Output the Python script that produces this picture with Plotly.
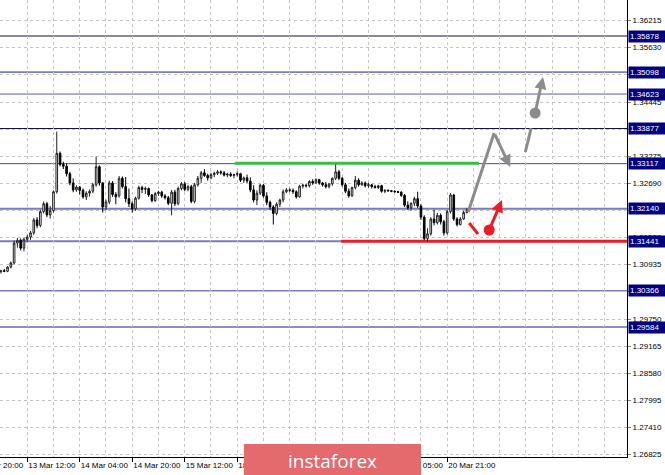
import plotly.graph_objects as go

# ---------------- data (H1 candles) ----------------
open_ = [1.3078, 1.3080, 1.3079, 1.3088, 1.3097, 1.3140, 1.3146, 1.3129, 1.3148, 1.3153,
         1.3162, 1.3190, 1.3178, 1.3208, 1.3225, 1.3201, 1.3210, 1.3251, 1.3334, 1.3310,
         1.3306, 1.3290, 1.3270, 1.3255, 1.3261, 1.3254, 1.3240, 1.3248, 1.3252, 1.3266,
         1.3305, 1.3270, 1.3218, 1.3229, 1.3270, 1.3245, 1.3242, 1.3280, 1.3262, 1.3236,
         1.3225, 1.3214, 1.3237, 1.3260, 1.3256, 1.3258, 1.3244, 1.3232, 1.3247, 1.3250,
         1.3242, 1.3238, 1.3226, 1.3250, 1.3225, 1.3258, 1.3268, 1.3256, 1.3262, 1.3230,
         1.3266, 1.3280, 1.3292, 1.3286, 1.3281, 1.3288, 1.3291, 1.3294, 1.3292, 1.3287,
         1.3289, 1.3286, 1.3288, 1.3290, 1.3276, 1.3281, 1.3274, 1.3255, 1.3233, 1.3248,
         1.3265, 1.3242, 1.3228, 1.3218, 1.3204, 1.3224, 1.3233, 1.3251, 1.3255, 1.3254,
         1.3251, 1.3240, 1.3263, 1.3265, 1.3264, 1.3273, 1.3270, 1.3277, 1.3270, 1.3266,
         1.3262, 1.3268, 1.3280, 1.3294, 1.3280, 1.3266, 1.3252, 1.3242, 1.3260, 1.3276,
         1.3266, 1.3270, 1.3264, 1.3266, 1.3262, 1.3260, 1.3264, 1.3252, 1.3254, 1.3253,
         1.3252, 1.3251, 1.3250, 1.3243, 1.3222, 1.3216, 1.3226, 1.3236, 1.3220, 1.3196,
         1.3150, 1.3160, 1.3192, 1.3184, 1.3200, 1.3186, 1.3162, 1.3208, 1.3244, 1.3192,
         1.3180, 1.3192, 1.3206]
high = [1.3082, 1.3084, 1.3090, 1.3100, 1.3145, 1.3151, 1.3150, 1.3152, 1.3158, 1.3166,
        1.3194, 1.3196, 1.3212, 1.3230, 1.3229, 1.3220, 1.3254, 1.3381, 1.3338, 1.3316,
        1.3312, 1.3294, 1.3280, 1.3265, 1.3263, 1.3258, 1.3252, 1.3256, 1.3270, 1.3327,
        1.3308, 1.3272, 1.3234, 1.3275, 1.3274, 1.3250, 1.3285, 1.3284, 1.3283, 1.3258,
        1.3230, 1.3240, 1.3264, 1.3264, 1.3262, 1.3260, 1.3246, 1.3250, 1.3253, 1.3253,
        1.3246, 1.3242, 1.3255, 1.3255, 1.3262, 1.3272, 1.3272, 1.3266, 1.3266, 1.3270,
        1.3285, 1.3296, 1.3300, 1.3290, 1.3292, 1.3294, 1.3298, 1.3297, 1.3296, 1.3292,
        1.3293, 1.3290, 1.3295, 1.3292, 1.3284, 1.3288, 1.3282, 1.3265, 1.3254, 1.3268,
        1.3268, 1.3250, 1.3232, 1.3222, 1.3228, 1.3236, 1.3256, 1.3259, 1.3258, 1.3258,
        1.3254, 1.3266, 1.3268, 1.3268, 1.3276, 1.3278, 1.3280, 1.3279, 1.3272, 1.3272,
        1.3270, 1.3282, 1.3310, 1.3298, 1.3283, 1.3270, 1.3258, 1.3262, 1.3285, 1.3280,
        1.3274, 1.3273, 1.3270, 1.3268, 1.3266, 1.3266, 1.3266, 1.3256, 1.3256, 1.3255,
        1.3254, 1.3253, 1.3252, 1.3246, 1.3230, 1.3228, 1.3240, 1.3251, 1.3224, 1.3200,
        1.3172, 1.3196, 1.3212, 1.3205, 1.3204, 1.3190, 1.3212, 1.3248, 1.3246, 1.3196,
        1.3196, 1.3210, 1.3216]
low = [1.3074, 1.3077, 1.3077, 1.3085, 1.3094, 1.3130, 1.3124, 1.3122, 1.3142, 1.3147,
       1.3158, 1.3172, 1.3174, 1.3204, 1.3196, 1.3193, 1.3206, 1.3247, 1.3306, 1.3300,
       1.3284, 1.3265, 1.3250, 1.3251, 1.3245, 1.3236, 1.3233, 1.3240, 1.3248, 1.3262,
       1.3264, 1.3206, 1.3211, 1.3224, 1.3240, 1.3224, 1.3238, 1.3258, 1.3228, 1.3218,
       1.3206, 1.3210, 1.3234, 1.3248, 1.3246, 1.3240, 1.3228, 1.3229, 1.3242, 1.3238,
       1.3234, 1.3222, 1.3200, 1.3220, 1.3222, 1.3254, 1.3252, 1.3252, 1.3226, 1.3226,
       1.3262, 1.3270, 1.3283, 1.3275, 1.3278, 1.3283, 1.3287, 1.3288, 1.3284, 1.3282,
       1.3283, 1.3280, 1.3284, 1.3272, 1.3270, 1.3270, 1.3250, 1.3228, 1.3222, 1.3244,
       1.3238, 1.3222, 1.3212, 1.3180, 1.3200, 1.3218, 1.3228, 1.3248, 1.3250, 1.3246,
       1.3236, 1.3238, 1.3258, 1.3260, 1.3260, 1.3266, 1.3268, 1.3266, 1.3262, 1.3258,
       1.3258, 1.3264, 1.3276, 1.3276, 1.3262, 1.3248, 1.3238, 1.3240, 1.3256, 1.3262,
       1.3264, 1.3260, 1.3260, 1.3258, 1.3258, 1.3257, 1.3249, 1.3248, 1.3251, 1.3250,
       1.3249, 1.3248, 1.3240, 1.3218, 1.3212, 1.3210, 1.3220, 1.3216, 1.3190, 1.3146,
       1.3143, 1.3156, 1.3178, 1.3180, 1.3180, 1.3156, 1.3158, 1.3204, 1.3188, 1.3176,
       1.3178, 1.3190, 1.3204]
close = [1.3080, 1.3079, 1.3088, 1.3097, 1.3140, 1.3146, 1.3129, 1.3148, 1.3153, 1.3162,
         1.3190, 1.3178, 1.3208, 1.3225, 1.3201, 1.3210, 1.3251, 1.3334, 1.3310, 1.3306,
         1.3290, 1.3270, 1.3255, 1.3261, 1.3254, 1.3240, 1.3248, 1.3252, 1.3266, 1.3305,
         1.3270, 1.3218, 1.3229, 1.3270, 1.3245, 1.3240, 1.3280, 1.3262, 1.3236, 1.3225,
         1.3214, 1.3237, 1.3260, 1.3256, 1.3258, 1.3244, 1.3232, 1.3247, 1.3250, 1.3242,
         1.3238, 1.3226, 1.3250, 1.3225, 1.3258, 1.3268, 1.3256, 1.3262, 1.3230, 1.3266,
         1.3280, 1.3292, 1.3286, 1.3281, 1.3288, 1.3291, 1.3294, 1.3292, 1.3287, 1.3289,
         1.3286, 1.3288, 1.3290, 1.3276, 1.3281, 1.3274, 1.3255, 1.3233, 1.3248, 1.3265,
         1.3242, 1.3228, 1.3218, 1.3204, 1.3224, 1.3233, 1.3251, 1.3255, 1.3254, 1.3251,
         1.3240, 1.3263, 1.3265, 1.3264, 1.3273, 1.3270, 1.3277, 1.3270, 1.3266, 1.3262,
         1.3268, 1.3280, 1.3294, 1.3280, 1.3266, 1.3252, 1.3242, 1.3260, 1.3276, 1.3266,
         1.3270, 1.3264, 1.3266, 1.3262, 1.3260, 1.3264, 1.3252, 1.3254, 1.3253, 1.3252,
         1.3251, 1.3250, 1.3243, 1.3222, 1.3216, 1.3226, 1.3236, 1.3220, 1.3196, 1.3150,
         1.3160, 1.3192, 1.3184, 1.3200, 1.3186, 1.3162, 1.3208, 1.3244, 1.3192, 1.3180,
         1.3192, 1.3206, 1.3212]

# time axis labels (bar index of each label, text)
time_label_bars = [8, 24, 40, 56, 72, 88, 104, 120, 136]
time_label_text = ["13 Mar 12:00", "14 Mar 04:00", "14 Mar 20:00", "15 Mar 12:00",
                   "18 Mar 05:00", "18 Mar 21:00", "19 Mar 13:00", "20 Mar 05:00",
                   "20 Mar 21:00"]
first_label_text = "12 Mar 20:00"

# price scale labels
price_ticks = [1.36215, 1.35630, 1.35045, 1.34445, 1.33860, 1.33275, 1.32690, 1.32105,
               1.31520, 1.30935, 1.30350, 1.29750, 1.29165, 1.28580, 1.27995, 1.27410,
               1.26825]

# horizontal support / resistance levels
levels = [1.35878, 1.35098, 1.34623, 1.33877, 1.33117, 1.32140, 1.31441, 1.30366, 1.29584]

# highlighted zones
green_level = 1.33125
green_from_bar, green_to_bar = 71.3, 145.7
red_level = 1.31441
red_from_bar = 103.7

# forecast drawings (bar index, price)
up_path_bars = [142.4, 150.3]
up_path_prices = [1.32071, 1.33780]
up_pullback_tip = (155.2, 1.33045)
up_dash_bars = [159.8, 161.6]
up_dash_prices = [1.33369, 1.33888]
up_target_point = (162.8, 1.34213)
up_target_tip = (165.2, 1.34992)
alt_dash_bars = [142.7, 145.4]
alt_dash_prices = [1.31833, 1.31595]
alt_point = (148.8, 1.31682)
alt_tip = (152.7, 1.32331)

# ---------------- styling ----------------
level_colors = ["#101040", "#1c1c80", "#5a5ab4", "#101040", "#4848a8",
                "#7a7ac0", "#7a7ac0", "#3a3a98", "#1c1c80"]
level_widths = [1, 1, 1, 1, 1, 2, 2, 1, 1]
GRAY = "#8c8c8c"
RED = "#ec1c24"
FONT = "Liberation Sans"
X_RANGE = [-0.3, 190.8]
Y_RANGE = [1.26772, 1.36657]

bars = list(range(len(close)))

fig = go.Figure()
fig.add_trace(go.Candlestick(
    x=bars, open=open_, high=high, low=low, close=close,
    increasing=dict(line=dict(color="#202020", width=1), fillcolor="#ffffff"),
    decreasing=dict(line=dict(color="#000000", width=1), fillcolor="#000000"),
    whiskerwidth=0, hoverinfo="skip", showlegend=False))

# forecast lines
fig.add_trace(go.Scatter(x=up_path_bars, y=up_path_prices, mode="lines",
                         line=dict(color=GRAY, width=3), hoverinfo="skip"))
fig.add_trace(go.Scatter(x=up_dash_bars, y=up_dash_prices, mode="lines",
                         line=dict(color=GRAY, width=3), hoverinfo="skip"))
fig.add_trace(go.Scatter(x=[up_target_point[0]], y=[up_target_point[1]], mode="markers",
                         marker=dict(color=GRAY, size=11), hoverinfo="skip"))
fig.add_trace(go.Scatter(x=alt_dash_bars, y=alt_dash_prices, mode="lines",
                         line=dict(color=RED, width=3), hoverinfo="skip"))
fig.add_trace(go.Scatter(x=[alt_point[0]], y=[alt_point[1]], mode="markers",
                         marker=dict(color=RED, size=11), hoverinfo="skip"))

shapes = []
for lv, col, w in zip(levels, level_colors, level_widths):
    shapes.append(dict(type="line", xref="paper", x0=0, x1=1, yref="y", y0=lv, y1=lv,
                       line=dict(color=col, width=w), layer="between"))
shapes.append(dict(type="line", xref="x", x0=green_from_bar, x1=green_to_bar, yref="y",
                   y0=green_level, y1=green_level, line=dict(color="#3cbf3c", width=3),
                   layer="between"))
shapes.append(dict(type="line", xref="x", x0=red_from_bar, x1=X_RANGE[1], yref="y",
                   y0=red_level, y1=red_level, line=dict(color=RED, width=3),
                   layer="between"))
# instaforex logo bar over the time axis
shapes.append(dict(type="rect", xref="paper", yref="paper", x0=0.389, x1=0.6715,
                   y0=-0.06, y1=0.0284, fillcolor="#e46a6e", line=dict(width=0),
                   layer="above"))

annotations = []
for lv in levels:
    annotations.append(dict(xref="paper", x=1, xanchor="left", xshift=1, yref="y", y=lv,
                            text=f"{lv:.5f}", showarrow=False, bgcolor="#000080",
                            font=dict(color="white", size=8, family=FONT),
                            borderpad=1, width=34, align="left"))
# arrows
annotations.append(dict(x=up_pullback_tip[0], y=up_pullback_tip[1], ax=up_path_bars[-1],
                        ay=up_path_prices[-1], xref="x", yref="y", axref="x", ayref="y",
                        showarrow=True, arrowhead=2, arrowsize=0.8, arrowwidth=3,
                        arrowcolor=GRAY, text="", standoff=0))
annotations.append(dict(x=up_target_tip[0], y=up_target_tip[1], ax=up_target_point[0],
                        ay=up_target_point[1], xref="x", yref="y", axref="x", ayref="y",
                        showarrow=True, arrowhead=2, arrowsize=0.8, arrowwidth=3,
                        arrowcolor=GRAY, text="", standoff=0))
annotations.append(dict(x=alt_tip[0], y=alt_tip[1], ax=alt_point[0], ay=alt_point[1],
                        xref="x", yref="y", axref="x", ayref="y",
                        showarrow=True, arrowhead=2, arrowsize=0.8, arrowwidth=3,
                        arrowcolor=RED, text="", standoff=0))
# partially visible first time label
annotations.append(dict(xref="paper", x=-26.2 / 627, xanchor="left", yref="paper", y=0,
                        yanchor="top", yshift=-2, text=first_label_text, showarrow=False,
                        font=dict(size=8, family=FONT, color="black")))
annotations.append(dict(xref="paper", x=0.5305, yref="paper", y=-0.008, yanchor="middle",
                        xanchor="center", text="instaforex", showarrow=False,
                        font=dict(size=19, family="Open Sans", color="white")))

fig.update_layout(
    width=665, height=475, margin=dict(l=0, r=38, t=0, b=18, autoexpand=False),
    paper_bgcolor="white", plot_bgcolor="white", showlegend=False, hovermode=False,
    shapes=shapes, annotations=annotations,
    font=dict(family=FONT, size=8, color="black"),
    xaxis=dict(range=X_RANGE, rangeslider=dict(visible=False), tickmode="array",
               tickvals=time_label_bars, ticktext=time_label_text, tickangle=0,
               ticks="outside", ticklen=4, tickcolor="black",
               ticklabelposition="outside right", automargin=False,
               showline=True, linecolor="black", linewidth=1, mirror=False,
               showgrid=True, gridcolor="#c4c4c4", griddash="3px,3px", gridwidth=1,
               minor=dict(tick0=0, dtick=8, showgrid=True, gridcolor="#c4c4c4",
                          griddash="3px,3px", ticks=""),
               zeroline=False, tickfont=dict(size=8, family=FONT, color="black")),
    yaxis=dict(range=Y_RANGE, side="right", tickmode="array", tickvals=price_ticks,
               ticktext=[f"{v:.5f}" for v in price_ticks], ticks="outside", ticklen=3,
               tickcolor="#808080", showline=True, linecolor="black", linewidth=1,
               automargin=False,
               showgrid=True, gridcolor="#c4c4c4", griddash="3px,3px", gridwidth=1,
               zeroline=False, tickfont=dict(size=8, family=FONT, color="black")),
)

fig.write_html("out.html", config={"displayModeBar": False},
               post_script="document.body.style.margin='0';document.body.style.overflow='hidden';")
